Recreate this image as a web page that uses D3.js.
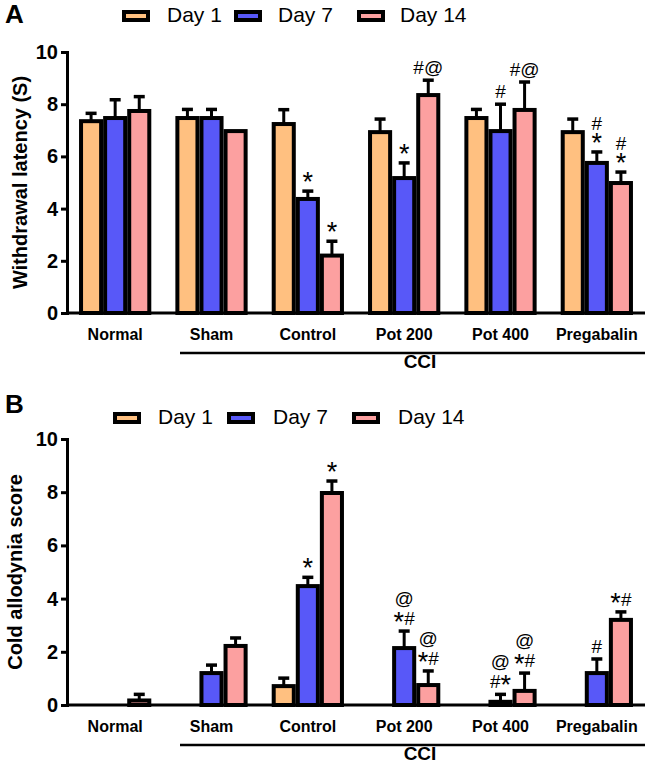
<!DOCTYPE html>
<html>
<head>
<meta charset="utf-8">
<script src="https://cdn.jsdelivr.net/npm/d3@7"></script>
<style>
  html, body { margin: 0; padding: 0; background: #fff; }
  svg { display: block; font-family: Arial, "Liberation Sans", sans-serif; }
</style>
</head>
<body>
<svg id="chart" width="649" height="772"></svg>
<script>
// ---------- DATA ----------
const groups = ["Normal", "Sham", "Control", "Pot 200", "Pot 400", "Pregabalin"];
const days = ["Day 1", "Day 7", "Day 14"];
const dayColors = ["#FFC080", "#5858F8", "#FCA0A0"];
const yTicks = [0, 2, 4, 6, 8, 10];

// Panel A: withdrawal latency (S)
const latencyDay1  = [7.35, 7.47, 7.24, 6.93, 7.47, 6.93];
const latencyDay7  = [7.47, 7.47, 4.37, 5.17, 6.97, 5.75];
const latencyDay14 = [7.74, 6.97, 2.20, 8.35, 7.78, 4.98];
const latencyErr1  = [0.30, 0.33, 0.55, 0.50, 0.33, 0.50];
const latencyErr7  = [0.70, 0.33, 0.30, 0.58, 1.03, 0.42];
const latencyErr14 = [0.55, 0.00, 0.55, 0.57, 1.07, 0.42];
const latencyAnn1  = ["", "", "", "", "", ""];
const latencyAnn7  = ["", "", "*", "*", "#", "#|*"];
const latencyAnn14 = ["", "", "*", "#@", "#@", "#|*"];

// Panel B: cold allodynia score
const coldDay1  = [0, 0, 0.71, 0, 0, 0];
const coldDay7  = [0, 1.20, 4.47, 2.14, 0.12, 1.20];
const coldDay14 = [0.17, 2.22, 7.97, 0.75, 0.53, 3.20];
const coldErr1  = [0, 0, 0.30, 0, 0, 0];
const coldErr7  = [0, 0.30, 0.33, 0.64, 0.28, 0.53];
const coldErr14 = [0.23, 0.30, 0.45, 0.53, 0.67, 0.30];
const coldAnn1  = ["", "", "", "", "", ""];
const coldAnn7  = ["", "", "*", "@|*#", "@|#*", "#"];
const coldAnn14 = ["", "", "*", "@|*#", "@|*#", "*#"];

// ---------- DRAW ----------
const svg = d3.select("#chart");
const FONT = 'Arial, "Liberation Sans", sans-serif';

// one text element per annotation; lines and the enlarged "*" are tspans
function annText(g, x, yBottom, str, lineH) {
  const lines = str.split("|");
  const t = g.append("text").attr("x", x)
    .attr("y", yBottom - (lines.length - 1) * lineH)
    .attr("text-anchor", "middle").attr("font-size", 19);
  let cur = 0; // current vertical offset relative to the line baseline
  lines.forEach((ln, k) => {
    let first = true;
    for (const ch of ln) {
      const target = ch === "*" ? 6 : 0;
      let dy = target - cur;
      const sp = t.append("tspan").text(ch);
      if (first && k > 0) { sp.attr("x", x); dy += lineH; }
      if (dy !== 0) sp.attr("dy", dy);
      if (ch === "*") sp.attr("font-size", 27);
      cur = target;
      first = false;
    }
  });
}

function panel(opts) {
  const { letter, letterY, top, bottom, yTitle, yTitleX, values, errs, anns,
          legendXs, legendTextXs, legendY, lineH } = opts;
  const left = 67, right = 645;

  const y = d3.scaleLinear().domain([0, 10]).range([bottom, top]);
  const x0 = d3.scaleBand().domain(groups).range([left, right])
    .paddingInner(0.25).paddingOuter(0.125);
  const x1 = d3.scaleBand().domain(days).range([0, x0.bandwidth()]);

  const g = svg.append("g");

  // panel letter
  g.append("text").attr("x", 5).attr("y", letterY)
    .attr("font-size", 26).attr("font-weight", "bold").text(letter);

  // legend
  days.forEach((d, i) => {
    g.append("rect")
      .attr("x", legendXs[i] + 2).attr("y", legendY - 10)
      .attr("width", 24).attr("height", 8)
      .attr("fill", dayColors[i]).attr("stroke", "#000").attr("stroke-width", 4);
    g.append("text")
      .attr("x", legendTextXs[i]).attr("y", legendY)
      .attr("font-size", 21).text(d);
  });

  // bars
  days.forEach((d, i) => {
    const vals = values[i], er = errs[i], an = anns[i];
    groups.forEach((grp, j) => {
      const v = vals[j];
      const bx = x0(grp) + x1(d);
      const cx = bx + x1.bandwidth() / 2;
      if (v > 0) {
        g.append("rect")
          .attr("x", bx + 2).attr("y", y(v))
          .attr("width", x1.bandwidth() - 4)
          .attr("height", Math.max(0, y(0) - y(v)))
          .attr("fill", dayColors[i]).attr("stroke", "#000").attr("stroke-width", 4);
      }
      let topY = y(v);
      if (er[j] > 0) {
        const ey = y(v + er[j]);
        g.append("line").attr("x1", cx).attr("x2", cx)
          .attr("y1", y(v)).attr("y2", ey)
          .attr("stroke", "#000").attr("stroke-width", 3);
        g.append("line").attr("x1", cx - 5.5).attr("x2", cx + 5.5)
          .attr("y1", ey).attr("y2", ey)
          .attr("stroke", "#000").attr("stroke-width", 3.5);
        topY = ey;
      }
      if (an[j]) annText(g, cx, topY - 6, an[j], lineH);
    });
  });

  // x axis baseline
  g.append("line").attr("x1", left).attr("x2", right)
    .attr("y1", y(0)).attr("y2", y(0))
    .attr("stroke", "#000").attr("stroke-width", 3);

  // y axis
  const ax = g.append("g").attr("transform", `translate(${left},0)`)
    .call(d3.axisLeft(y).tickValues(yTicks).tickSize(6).tickSizeOuter(6).tickPadding(3));
  ax.selectAll("path, line").attr("stroke", "#000").attr("stroke-width", 3);
  ax.selectAll("text").attr("font-size", 20).attr("font-weight", "bold")
    .attr("font-family", FONT).attr("fill", "#000");

  // y title
  g.append("text")
    .attr("transform", `translate(${yTitleX},${(top + bottom) / 2}) rotate(-90)`)
    .attr("text-anchor", "middle").attr("font-size", 20).attr("font-weight", "bold")
    .text(yTitle);

  // category labels
  groups.forEach(grp => {
    g.append("text")
      .attr("x", x0(grp) + x0.bandwidth() / 2).attr("y", y(0) + 27)
      .attr("text-anchor", "middle").attr("font-size", 16).attr("font-weight", "bold")
      .text(grp);
  });

  // CCI bracket
  g.append("line").attr("x1", 180).attr("x2", right)
    .attr("y1", y(0) + 40).attr("y2", y(0) + 40)
    .attr("stroke", "#000").attr("stroke-width", 2.5);
  g.append("text").attr("x", 420).attr("y", y(0) + 55)
    .attr("text-anchor", "middle").attr("font-size", 19).attr("font-weight", "bold")
    .text("CCI");
}

panel({
  letter: "A", letterY: 23, top: 52, bottom: 313,
  yTitle: "Withdrawal latency (S)", yTitleX: 27,
  values: [latencyDay1, latencyDay7, latencyDay14],
  errs: [latencyErr1, latencyErr7, latencyErr14],
  anns: [latencyAnn1, latencyAnn7, latencyAnn14],
  legendXs: [122, 234, 357], legendTextXs: [167, 278, 400], legendY: 22,
  lineH: 16
});

panel({
  letter: "B", letterY: 413, top: 439, bottom: 705,
  yTitle: "Cold allodynia score", yTitleX: 22,
  values: [coldDay1, coldDay7, coldDay14],
  errs: [coldErr1, coldErr7, coldErr14],
  anns: [coldAnn1, coldAnn7, coldAnn14],
  legendXs: [113, 227, 352], legendTextXs: [158, 273, 398], legendY: 424,
  lineH: 20
});
</script>
</body>
</html>
